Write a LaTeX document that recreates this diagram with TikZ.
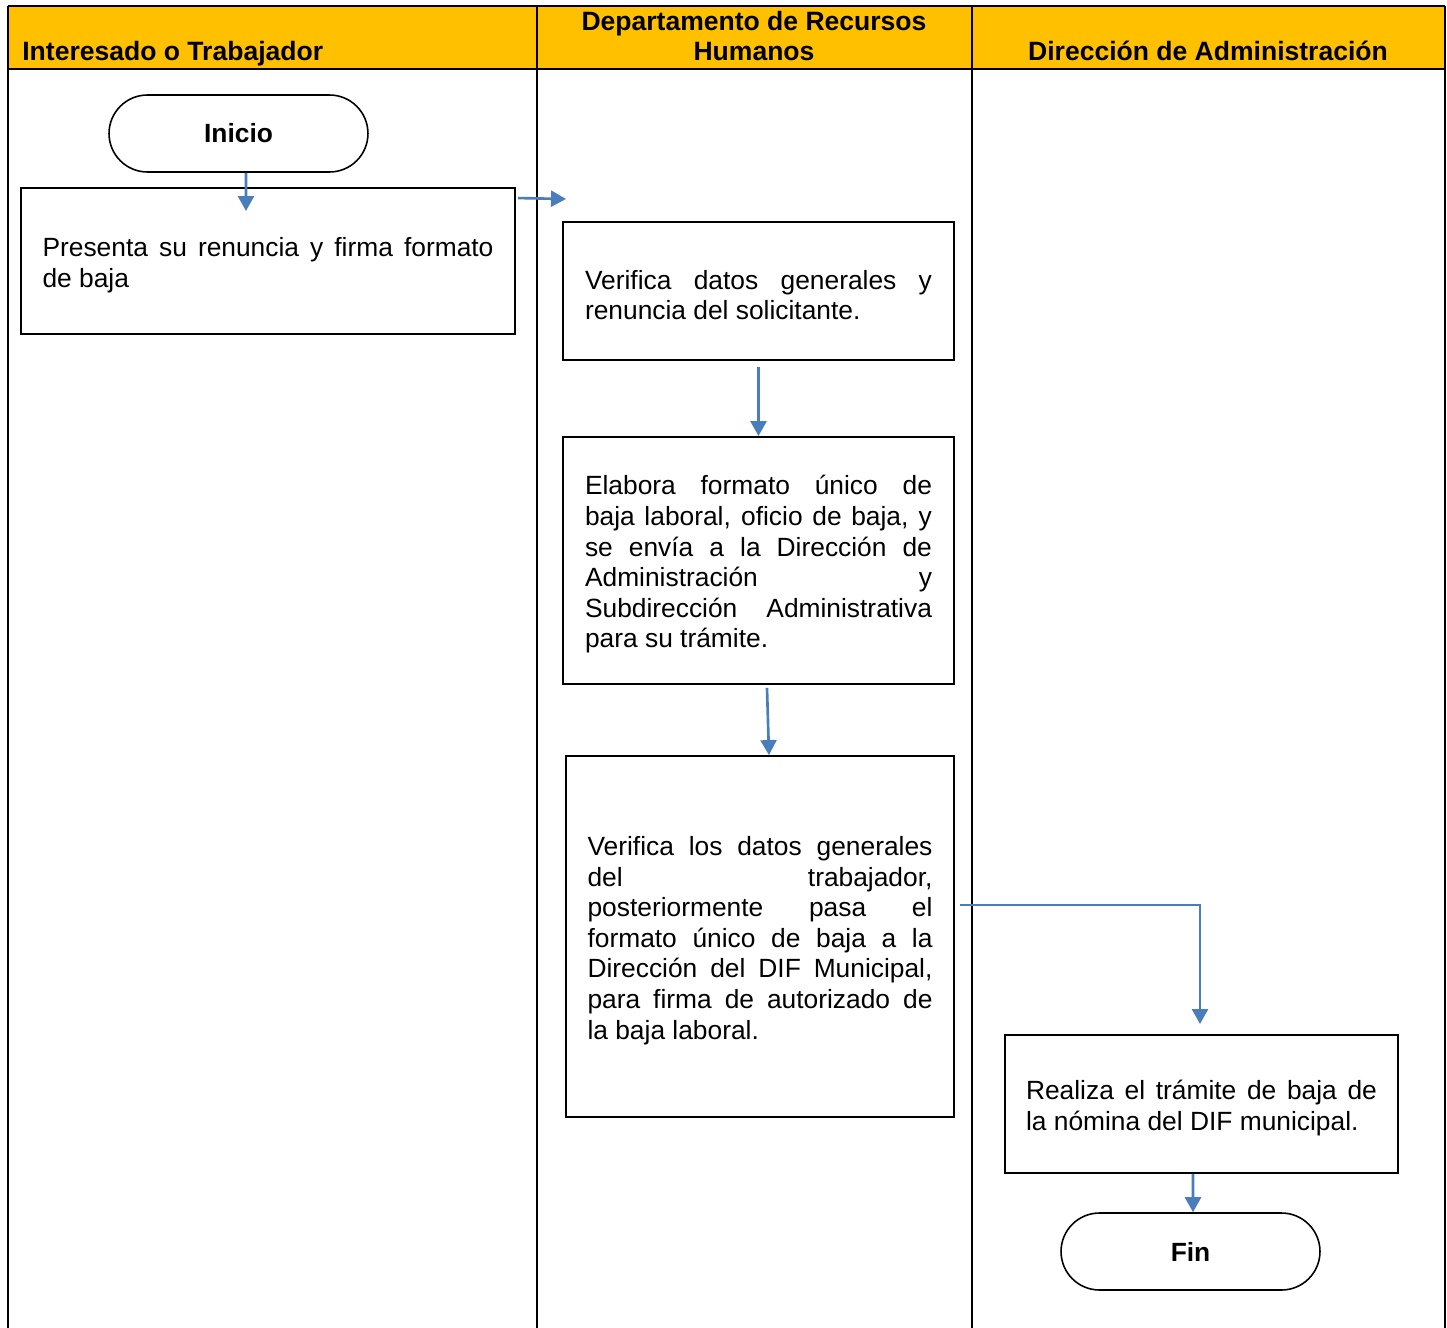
\documentclass[tikz,border=0pt]{standalone}
\usepackage{fontspec}
\setmainfont{Liberation Sans}
\usetikzlibrary{arrows.meta}
\definecolor{encabezado}{HTML}{FFC000}
\definecolor{azulflecha}{HTML}{4A7EBB}
\begin{document}
\begin{tikzpicture}[x=0.02cm,y=-0.02cm,
	caja/.style={draw,line width=1.1pt,rectangle,align=justify,inner sep=0pt,
		font=\fontsize{15}{17.4}\selectfont,execute at begin node={\rule{0pt}{15.5pt}}},
	terminal/.style={draw,line width=0.9pt,rectangle,rounded corners=0.77cm,
		minimum width=5.18cm,minimum height=1.54cm,font=\fontsize{15}{17.4}\selectfont\bfseries},
	titulo/.style={font=\fontsize{15.1}{17.4}\selectfont\bfseries,inner sep=0pt},
	flecha/.style={azulflecha,line width=1.5pt,-{Triangle[width=0.32cm,length=0.3cm]}}]
	\useasboundingbox (0,0) rectangle (1447,1328);
	% carriles
	\fill[encabezado] (8,6) rectangle (1445,69);
	\draw[line width=1.1pt] (8,6) -- (1445,6);
	\draw[line width=1.1pt] (8,69) -- (1445,69);
	\draw[line width=1.1pt] (8,6) -- (8,1328);
	\draw[line width=1.1pt] (537,6) -- (537,1328);
	\draw[line width=1.1pt] (972,6) -- (972,1328);
	\draw[line width=1.1pt] (1445,6) -- (1445,1328);
	\node[titulo,anchor=base west] (t1) at (22,61) {Interesado o Trabajador};
	\node[titulo,align=center,anchor=base] (t2) at (754,61) {Departamento de Recursos\\Humanos};
	\node[titulo,anchor=base] (t3) at (1208,61) {Dirección de Administración};
	% nodos
	\node[terminal] (inicio) at (238.5,133.5) {Inicio};
	\node[caja,minimum width=9.88cm,minimum height=2.92cm,text width=9.02cm] (presenta) at (268,261)
		{Presenta su renuncia y firma formato\linebreak de baja};
	\node[caja,minimum width=7.82cm,minimum height=2.76cm,text width=6.94cm] (verifica) at (758.5,291)
		{Verifica datos generales y\linebreak renuncia del solicitante.};
	\node[caja,minimum width=7.82cm,minimum height=4.94cm,text width=6.94cm] (elabora) at (758.5,560.5)
		{Elabora formato único de\linebreak baja laboral, oficio de baja, y\linebreak se envía a la Dirección de\linebreak Administración y\linebreak Subdirección Administrativa\linebreak para su trámite.};
	\node[caja,minimum width=7.76cm,minimum height=7.22cm,text width=6.9cm] (revisa) at (760,936.5)
		{Verifica los datos generales\linebreak del trabajador,\linebreak posteriormente pasa el\linebreak formato único de baja a la\linebreak Dirección del DIF Municipal,\linebreak para firma de autorizado de\linebreak la baja laboral.};
	\node[caja,minimum width=7.86cm,minimum height=2.76cm,text width=7.02cm] (realiza) at (1201.5,1104)
		{Realiza el trámite de baja de\linebreak la nómina del DIF municipal.};
	\node[terminal] (fin) at (1190.5,1251.5) {Fin};
	% flechas
	\coordinate (c1) at (246,211);
	\coordinate (c2) at (566,199);
	\coordinate (c5) at (1200,1024);
	\draw[flecha] ([xshift=0.15cm]inicio.south) -- (c1);
	\draw[flecha] ([xshift=0.04cm,yshift=-0.22cm]presenta.north east) -- (c2);
	\draw[flecha] ([yshift=-0.12cm]verifica.south) -- (elabora.north);
	\draw[flecha] ([xshift=0.17cm,yshift=-0.06cm]elabora.south) -- ([xshift=0.18cm]revisa.north);
	\draw[flecha] ([xshift=0.1cm,yshift=0.63cm]revisa.east) -| (c5);
	\draw[flecha] ([xshift=-0.17cm]realiza.south) -- ([xshift=0.05cm]fin.north);
\end{tikzpicture}
\end{document}
